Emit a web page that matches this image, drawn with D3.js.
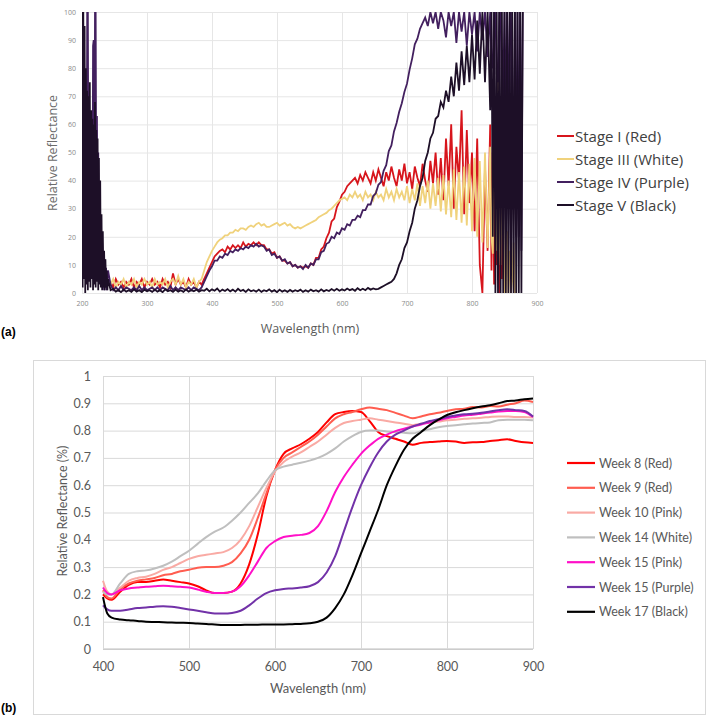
<!DOCTYPE html>
<html>
<head>
<meta charset="utf-8">
<script src="https://cdn.jsdelivr.net/npm/d3@7"></script>
<style>
  body { margin: 0; background: #fff; }
  svg { display: block; }
</style>
</head>
<body>
<svg id="fig" width="709" height="718"></svg>
<script>
// ---------- panel (a): raw spectra ----------
// sampling grid: 1 nm for 200-239, 4 nm for 240-824, 2 nm for 828-880
var wlA = [].concat(d3.range(200, 240, 1), d3.range(240, 828, 4), d3.range(828, 881, 2));
var aTicksX = [200, 300, 400, 500, 600, 700, 800, 900];
var aTicksY = [0, 10, 20, 30, 40, 50, 60, 70, 80, 90, 100];
var aNames = ["Stage I (Red)", "Stage III (White)", "Stage IV (Purple)", "Stage V (Black)"];

var stageI = [
  // 200-239
  null,null,null,null,null,null,null,null,null,null,
  null,null,null,null,null,null,null,null,null,null,
  null,null,null,null,null,null,null,null,null,null,
  null,null,null,null,null,null,null,null,null,null,
  // 240-824
  null,4,2,5,3,4,2,4,3,5,
  2,4,3,5,2,4,3,5,3,4,
  2,5,3,4,2,7,3,5,3,4,
  2,5,3,4,2,4,3,5,7,9,
  11,13,14,15,15.5,14.5,16.5,15.5,17,16,
  17,16,18,16.5,17.5,17,18,17,18,17,
  17,15.5,15.5,14,14.5,12.5,13,11.5,11.5,10.5,
  11,9.5,10,9,9.5,9,9.5,9,10.5,10,
  12.5,12.5,15.5,16.5,19.5,21.5,25.5,26.5,30.5,32.5,
  35,36,38,39,40,41,39,42,40,43,
  41,39,43,40,44,41,38,43,40,45,
  41,38,44,40,46,39,43,37,45,41,
  38,46,40,36,47,39,50,35,48,33,
  55,38,60,30,52,40,65,28,58,32,
  50,22,55,10,0,45,15,
  // 828-880
  60,8,50,3,55,10,40,0,50,5,30,
  null,null,null,null,null,null,null,null,null,null,null,null,null,null,null,null
];
var stageIII = [
  null,null,null,null,null,null,null,null,null,null,
  null,null,null,null,null,null,null,null,null,null,
  null,null,null,null,null,null,null,null,null,null,
  null,null,null,null,null,null,null,null,null,null,
  null,3,5,2,4,3,5,2,4,3,
  5,2,4,3,5,3,4,2,5,3,
  4,3,5,2,4,5,3,6,3,5,
  2,4,3,5,2,4,5,8,11,13,
  15,16.5,18,19,19.5,20.5,20.5,21.5,21.5,22.5,
  22,23,23,22.5,23.5,24,23.5,24.5,25,24,
  24.5,23.5,23.5,24,24.5,25,24,24.5,25,24,
  24.5,23.5,23,23.5,23,23.5,24,24.5,25,25.5,
  26,27,27.5,28,28.5,29.5,30,31,32,33,
  33.5,34,33,35,34,36,34,35,33,36,
  34,35,33,36,34,35,33,37,34,36,
  33,37,34,36,33,38,32,37,33,39,
  31,38,32,40,30,39,31,41,29,42,
  28,40,27,44,26,43,25,45,24,46,
  22,48,20,47,18,50,16,
  52,20,14,48,55,15,82,20,10,40,30,0,0,22,0,15,0,5,18,0,0,
  null,null,null,null,null,null
];
var stageIV = [
  100,30,85,20,70,10,60,15,100,100,
  20,65,10,60,15,55,5,88,90,10,
  100,100,30,63,10,50,5,35,8,25,
  3,18,2,14,1,12,2,9,1,5,
  8,3,1,2,1,2.5,1,2,1.5,1,
  2,1,2.5,1,2,1,1.5,2,1,2,
  1,2,1.5,1,2.5,1,2,1,2,1.5,
  1,2,1,2,1.5,1,2,4,6,8,
  9.5,11.5,11.5,13,12.5,14,13.5,15,14.5,15.5,
  15,16,15.5,16.5,16,17,16.5,17.5,16.5,17,
  16.5,15,15.5,13.5,14,12.5,13,11.5,12,10.5,
  11,9.5,10,9,9.5,8.5,10,9,10.5,10,
  12,12,14.5,15,17.5,18,20,19.5,21.5,21,
  23,22.5,24.5,24,26,26,27.5,27,29.5,29.5,
  31.5,31.5,34.5,35.5,38.5,39.5,43.5,45.5,50.5,52.5,
  57.5,60.5,64.5,67.5,71.5,74.5,79.5,83.5,88.5,90.5,
  94,96,98,95,100,96,100,94,100,97,
  91,100,95,100,89,100,93,100,88,100,
  92,100,86,100,90,100,84,
  100,82,80,100,100,78,75,100,100,70,
  70,100,55,100,50,100,100,30,30,100,
  20,100,20,100,15,100,null
];
var stageV = [
  100,2,100,5,95,0,80,3,72,1,
  70,4,75,2,65,5,62,1,60,3,
  68,2,58,4,55,1,48,3,40,2,
  28,1,22,2,15,1,12,2,8,1,
  5,1,1.5,0.5,1,0.3,1.2,0.5,1,0.4,
  1.3,0.5,1,0.3,1.2,0.6,1,0.4,1.2,0.5,
  1,0.3,1.3,0.6,1,0.4,1.2,0.5,1,0.4,
  1.3,0.5,1,0.6,1.2,0.5,1,0.8,1.5,0.6,
  1.3,0.8,1.6,0.5,1.2,0.7,1.4,0.6,1.2,0.5,
  1.5,0.7,1.1,0.4,1.3,0.6,1,0.5,1.2,0.4,
  1,0.6,1.3,0.5,1,0.3,1.2,0.5,1,0.4,
  1.1,0.5,1,0.6,1.2,0.4,1,0.5,1.2,0.6,
  1,0.5,1.3,0.6,1.1,0.7,1.4,0.8,1.5,0.8,
  1.3,0.9,1.6,1,1.4,0.8,1.7,1,1.5,1,
  1.8,1.2,1.6,1.3,1.5,2,2.5,3,3.5,4,
  5,7,10,12,16,18,22,25,30,33,
  38,41,47,50,55,57,62,63,68,66,
  72,68,77,70,82,72,86,74,88,75,
  92,76,97,78,100,75,100,
  65,100,20,100,0,100,0,100,0,100,
  0,100,0,100,0,100,0,100,0,100,
  0,100,0,100,0,100,null
];
var aColors = ["#d7151c", "#f0d27c", "#43205f", "#1d0f27"];

// ---------- panel (b): smoothed spectra ----------
var wlB = [400,405,410,420,430,440,450,460,470,480,490,500,510,520,530,540,550,560,570,580,
  590,600,610,620,630,640,650,660,670,680,690,700,710,720,730,740,750,760,770,780,
  790,800,810,820,830,840,850,860,870,880,890,900];
var bTicksX = [400, 500, 600, 700, 800, 900];
var bTicksY = [0, 0.1, 0.2, 0.3, 0.4, 0.5, 0.6, 0.7, 0.8, 0.9, 1];
var bNames = ["Week 8 (Red)", "Week 9 (Red)", "Week 10 (Pink)", "Week 14 (White)",
  "Week 15 (Pink)", "Week 15 (Purple)", "Week 17 (Black)"];

var week8 = [0.20,0.185,0.18,
  0.21,0.235,0.245,0.245,0.25,0.255,0.25,0.245,0.24,0.23,
  0.215,0.205,0.205,0.21,0.24,0.31,0.42,0.56,0.655,0.715,
  0.735,0.75,0.77,0.795,0.83,0.86,0.868,0.872,0.868,0.835,
  0.795,0.78,0.77,0.76,0.748,0.755,0.758,0.76,0.762,0.76,
  0.755,0.757,0.758,0.762,0.765,0.768,0.762,0.757,0.755];
var week9 = [0.215,0.19,0.185,
  0.22,0.24,0.25,0.255,0.26,0.27,0.275,0.285,0.29,0.298,
  0.30,0.30,0.305,0.318,0.35,0.40,0.48,0.57,0.655,0.70,
  0.72,0.74,0.76,0.785,0.815,0.845,0.86,0.868,0.878,0.885,
  0.88,0.875,0.865,0.855,0.845,0.852,0.86,0.865,0.872,0.878,
  0.88,0.886,0.885,0.89,0.888,0.895,0.90,0.91,0.905];
var week10 = [0.25,0.21,0.20,
  0.225,0.25,0.26,0.265,0.275,0.29,0.30,0.315,0.33,0.34,
  0.345,0.35,0.355,0.37,0.40,0.45,0.52,0.59,0.65,0.685,
  0.705,0.72,0.74,0.76,0.785,0.81,0.828,0.835,0.84,0.845,
  0.84,0.835,0.83,0.825,0.82,0.825,0.83,0.833,0.838,0.84,
  0.843,0.845,0.847,0.85,0.852,0.852,0.85,0.85,0.848];
var week14 = [0.21,0.20,0.20,
  0.24,0.275,0.285,0.288,0.295,0.305,0.32,0.34,0.36,0.385,
  0.41,0.43,0.445,0.47,0.50,0.535,0.57,0.615,0.655,0.668,
  0.675,0.682,0.69,0.70,0.715,0.735,0.76,0.78,0.795,0.80,
  0.80,0.797,0.795,0.792,0.79,0.798,0.805,0.812,0.817,0.82,
  0.823,0.826,0.828,0.83,0.838,0.84,0.84,0.84,0.838];
var week15pink = [0.225,0.205,0.20,
  0.215,0.222,0.225,0.228,0.23,0.232,0.23,0.228,0.225,0.218,
  0.21,0.205,0.205,0.21,0.23,0.27,0.32,0.37,0.395,0.41,
  0.415,0.418,0.425,0.45,0.505,0.575,0.63,0.675,0.715,0.745,
  0.77,0.785,0.798,0.807,0.815,0.822,0.83,0.838,0.845,0.85,
  0.855,0.858,0.862,0.866,0.87,0.872,0.872,0.868,0.85];
var week15purple = [0.16,0.145,0.14,
  0.14,0.145,0.15,0.152,0.155,0.157,0.155,0.15,0.145,0.14,
  0.135,0.13,0.13,0.132,0.14,0.16,0.185,0.205,0.215,0.22,
  0.222,0.225,0.23,0.245,0.28,0.34,0.43,0.52,0.60,0.665,
  0.72,0.76,0.785,0.80,0.815,0.825,0.835,0.842,0.85,0.855,
  0.86,0.862,0.865,0.87,0.875,0.878,0.875,0.872,0.852];
var week17 = [0.19,0.13,0.115,
  0.108,0.105,0.103,0.10,0.099,0.098,0.097,0.096,0.095,0.093,
  0.092,0.09,0.088,0.088,0.088,0.089,0.089,0.09,0.09,0.09,
  0.091,0.092,0.094,0.10,0.115,0.15,0.20,0.27,0.35,0.43,
  0.51,0.60,0.67,0.73,0.77,0.795,0.82,0.84,0.857,0.867,
  0.875,0.882,0.888,0.893,0.90,0.908,0.91,0.915,0.918];
var bColors = ["#ff0000", "#ff5d50", "#f9aaa4", "#bfbfbf", "#ff10c8", "#7232a8", "#000000"];

var svg = d3.select("#fig");

// ================= (a) =================
var xa = d3.scaleLinear().domain([200, 900]).range([82, 537]);
var ya = d3.scaleLinear().domain([0, 100]).range([293, 12]);
var fontA = "'Open Sans', sans-serif";

var gA = svg.append("g");

gA.append("g")
  .attr("transform", "translate(" + xa(200) + ",0)")
  .call(d3.axisLeft(ya).tickValues(aTicksY).tickSize(-(xa(900) - xa(200))).tickPadding(6))
  .attr("font-family", fontA).attr("font-size", 7)
  .call(function(g) {
    g.select(".domain").remove();
    g.selectAll("line").attr("stroke", "#e6e6e6");
    g.selectAll("text").attr("fill", "#8a8a8a");
  });

gA.append("g")
  .attr("transform", "translate(0," + ya(0) + ")")
  .call(d3.axisBottom(xa).tickValues(aTicksX).tickSize(-(ya(0) - ya(100))).tickPadding(8))
  .attr("font-family", fontA).attr("font-size", 7)
  .call(function(g) {
    g.select(".domain").remove();
    g.selectAll("line").attr("stroke", "#e6e6e6");
    g.selectAll("text").attr("fill", "#8a8a8a");
  });

svg.append("clipPath").attr("id", "clipA")
  .append("rect").attr("x", xa(200)).attr("y", ya(100))
  .attr("width", xa(900) - xa(200)).attr("height", ya(0) - ya(100));

var lineA = d3.line()
  .defined(function(d) { return d != null; })
  .x(function(d, i) { return xa(wlA[i]); })
  .y(function(d) { return ya(d); });

var aSeries = [stageI, stageIII, stageIV, stageV];
gA.append("g").attr("clip-path", "url(#clipA)")
  .selectAll("path").data(aSeries).enter().append("path")
  .attr("d", lineA)
  .attr("fill", "none")
  .attr("stroke", function(d, i) { return aColors[i]; })
  .attr("stroke-width", 1.8)
  .attr("stroke-linejoin", "miter");

gA.append("text")
  .attr("transform", "translate(52,153) rotate(-90)")
  .attr("text-anchor", "middle").attr("dominant-baseline", "central")
  .attr("font-family", fontA).attr("font-size", 12.5).attr("fill", "#6b6b6b")
  .text("Relative Reflectance");

gA.append("text")
  .attr("x", 310).attr("y", 328)
  .attr("text-anchor", "middle").attr("dominant-baseline", "central")
  .attr("font-family", fontA).attr("font-size", 12.5).attr("fill", "#5a5a5a")
  .text("Wavelength (nm)");

var legA = gA.selectAll(".legA").data(aNames).enter().append("g")
  .attr("transform", function(d, i) { return "translate(557," + (136 + i * 23) + ")"; });
legA.append("line").attr("x1", 0).attr("x2", 17)
  .attr("stroke", function(d, i) { return aColors[i]; }).attr("stroke-width", 2);
legA.append("text").attr("x", 18).attr("dominant-baseline", "central")
  .attr("font-family", fontA).attr("font-size", 15).attr("fill", "#404040")
  .text(function(d) { return d; });

svg.append("text").attr("x", 1).attr("y", 336)
  .attr("font-family", "'Liberation Sans', Arial, sans-serif").attr("font-weight", "bold")
  .attr("font-size", 12).attr("fill", "#000").text("(a)");

// ================= (b) =================
var xb = d3.scaleLinear().domain([400, 900]).range([103, 533]);
var yb = d3.scaleLinear().domain([0, 1]).range([649, 376]);
var fontB = "Lato, 'Open Sans', sans-serif";

var gB = svg.append("g");

gB.append("rect").attr("x", 33.5).attr("y", 360.5).attr("width", 672).attr("height", 354)
  .attr("fill", "none").attr("stroke", "#d9d9d9");

gB.append("g")
  .attr("transform", "translate(" + xb(400) + ",0)")
  .call(d3.axisLeft(yb).tickValues(bTicksY).tickFormat(d3.format("~g"))
    .tickSize(-(xb(900) - xb(400))).tickPadding(12))
  .attr("font-family", fontB).attr("font-size", 12.5)
  .call(function(g) {
    g.select(".domain").remove();
    g.selectAll("line").attr("stroke", "#d9d9d9");
    g.selectAll("text").attr("fill", "#595959");
  });

gB.append("g")
  .attr("transform", "translate(0," + yb(0) + ")")
  .call(d3.axisBottom(xb).tickValues(bTicksX).tickSize(-(yb(0) - yb(1))).tickPadding(13))
  .attr("font-family", fontB).attr("font-size", 12.5)
  .call(function(g) {
    g.select(".domain").attr("stroke", "#bfbfbf").attr("d", "M" + xb(400) + ",0H" + xb(900));
    g.selectAll("line").attr("stroke", "#d9d9d9");
    g.selectAll("text").attr("fill", "#595959");
  });

var lineB = d3.line()
  .x(function(d, i) { return xb(wlB[i]); })
  .y(function(d) { return yb(d); })
  .curve(d3.curveMonotoneX);

var bSeries = [week8, week9, week10, week14, week15pink, week15purple, week17];
gB.append("g").selectAll("path").data(bSeries).enter().append("path")
  .attr("d", lineB)
  .attr("fill", "none")
  .attr("stroke", function(d, i) { return bColors[i]; })
  .attr("stroke-width", 2);

gB.append("text")
  .attr("transform", "translate(62,511) rotate(-90)")
  .attr("text-anchor", "middle").attr("dominant-baseline", "central")
  .attr("font-family", fontB).attr("font-size", 12.5).attr("fill", "#595959")
  .text("Relative Reflectance (%)");

gB.append("text")
  .attr("x", 318).attr("y", 688)
  .attr("text-anchor", "middle").attr("dominant-baseline", "central")
  .attr("font-family", fontB).attr("font-size", 13).attr("fill", "#595959")
  .text("Wavelength (nm)");

var legB = gB.selectAll(".legB").data(bNames).enter().append("g")
  .attr("transform", function(d, i) { return "translate(567," + (463 + i * 24.8) + ")"; });
legB.append("line").attr("x1", 0).attr("x2", 28)
  .attr("stroke", function(d, i) { return bColors[i]; }).attr("stroke-width", 2.2);
legB.append("text").attr("x", 32).attr("dominant-baseline", "central")
  .attr("font-family", fontB).attr("font-size", 12.5).attr("fill", "#595959")
  .text(function(d) { return d; });

svg.append("text").attr("x", 1).attr("y", 712)
  .attr("font-family", "'Liberation Sans', Arial, sans-serif").attr("font-weight", "bold")
  .attr("font-size", 12).attr("fill", "#000").text("(b)");
</script>
</body>
</html>
